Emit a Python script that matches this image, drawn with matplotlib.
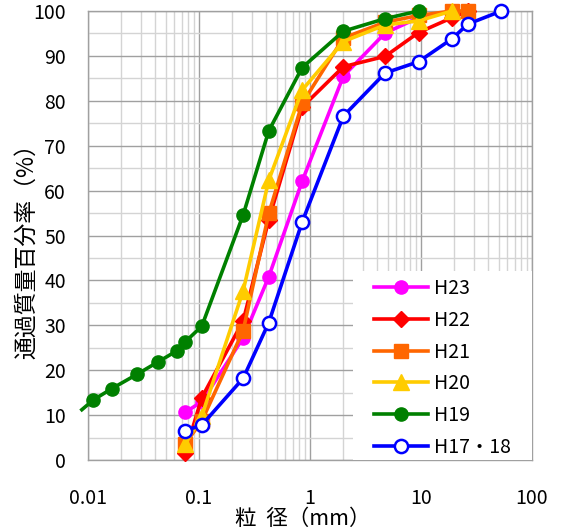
import matplotlib
matplotlib.use("Agg")
import matplotlib.pyplot as plt
from matplotlib.patches import Rectangle
from matplotlib.ticker import FixedLocator, NullFormatter, FixedFormatter

plt.rcParams['font.family'] = ['Noto Sans CJK JP', 'DejaVu Sans']

# Sieve sizes (mm)
sieve = [0.075, 0.106, 0.25, 0.425, 0.85, 2, 4.75, 9.5, 19, 26.5, 53]

# Percent passing by survey year
h23 = [10.6, 13.0, 27.2, 40.8, 62.1, 85.5, 95.1, 98.5, 100]
h22 = [1.6, 13.9, 31.0, 53.5, 78.6, 87.6, 89.9, 95.2, 98.5, 100]
h21 = [3.6, 8.7, 28.8, 54.9, 79.4, 94.0, 97.5, 99.0, 100, 100]
h20 = [3.5, 9.8, 37.7, 62.3, 82.4, 93.2, 96.9, 97.8, 100]
h1718 = [6.5, 7.8, 18.2, 30.6, 53.0, 76.6, 86.2, 88.7, 93.8, 97.1, 100]

# H19 includes hydrometer readings below the 0.075 mm sieve
h19_size = [0.0088, 0.0112, 0.0164, 0.0277, 0.0431, 0.063, 0.075, 0.106,
            0.25, 0.425, 0.85, 2, 4.75, 9.5]
h19 = [11.2, 13.4, 15.9, 19.1, 21.9, 24.3, 26.3, 29.8,
       54.6, 73.3, 87.4, 95.5, 98.3, 100]

x_ticks = [0.01, 0.1, 1, 10, 100]
x_labels = ['0.01', '0.1', '1', '10', '100']
y_ticks = list(range(0, 101, 10))

fig = plt.figure(figsize=(5.61, 5.30), dpi=100)
ax = fig.add_axes([88 / 561, 1 - 460 / 530, 444 / 561, 449 / 530])

ax.set_xscale('log')
ax.set_xlim(0.01, 100)
ax.set_ylim(0, 100)

# grid: decades / tens darker, minor lighter
ax.xaxis.set_major_locator(FixedLocator(x_ticks))
ax.xaxis.set_major_formatter(FixedFormatter(x_labels))
minor_x = [m * 10.0 ** e for e in range(-2, 2) for m in range(2, 10)]
ax.xaxis.set_minor_locator(FixedLocator(minor_x))
ax.xaxis.set_minor_formatter(NullFormatter())
ax.yaxis.set_major_locator(FixedLocator(y_ticks))
ax.yaxis.set_minor_locator(FixedLocator(list(range(5, 100, 10))))

ax.grid(which='major', color='#a0a0a0', lw=1.0)
ax.grid(which='minor', color='#d4d4d4', lw=1.0)
ax.set_axisbelow(True)
for s in ax.spines.values():
    s.set_color('#a0a0a0')
    s.set_linewidth(1.0)

ax.tick_params(which='both', length=0)
ax.tick_params(axis='x', pad=20, labelsize=14)
ax.tick_params(axis='y', pad=16, labelsize=14)

lw = 2.6
ax.plot(sieve[:len(h23)], h23, color='#FF00FF', lw=lw, marker='o', ms=9.5,
        label='H23', clip_on=False, zorder=3)
ax.plot(sieve[:len(h22)], h22, color='#FF0000', lw=lw, marker='D', ms=8.5,
        label='H22', clip_on=False, zorder=3)
ax.plot(sieve[:len(h21)], h21, color='#FF6600', lw=lw, marker='s', ms=9.5,
        label='H21', clip_on=False, zorder=3)
ax.plot(sieve[:len(h20)], h20, color='#FFCC00', lw=lw, marker='^', ms=11,
        label='H20', clip_on=False, zorder=3)
ax.plot(h19_size, h19, color='#008000', lw=lw, marker='o', ms=9.5,
        markevery=list(range(1, len(h19))), label='H19', clip_on=False,
        zorder=3)
ax.plot(sieve[:len(h1718)], h1718, color='#0000FF', lw=lw, marker='o', ms=9.5,
        mfc='white', mec='#0000FF', mew=1.8, label='H17・18', clip_on=False,
        zorder=3)

# white legend panel in the lower-right corner of the plot area
panel = Rectangle((0.597, 0.0), 0.403, 0.421, transform=ax.transAxes,
                  facecolor='white', edgecolor='none', zorder=4)
ax.add_patch(panel)

leg = ax.legend(loc='upper left', bbox_to_anchor=(0.644, 0.405),
                borderaxespad=0, borderpad=0, frameon=False,
                fontsize=14, handlelength=2.8, handletextpad=0.28,
                labelspacing=0.55)
leg.set_zorder(5)

fig.text(27 / 561, 1 - 246 / 530, '通過質量百分率（%）', rotation=90,
         ha='center', va='center', fontsize=16.5)
fig.text(303 / 561, 1 - 519 / 530, '粒  径（mm）', ha='center', va='center',
         fontsize=15.5)

fig.savefig('out.png', dpi=100)
